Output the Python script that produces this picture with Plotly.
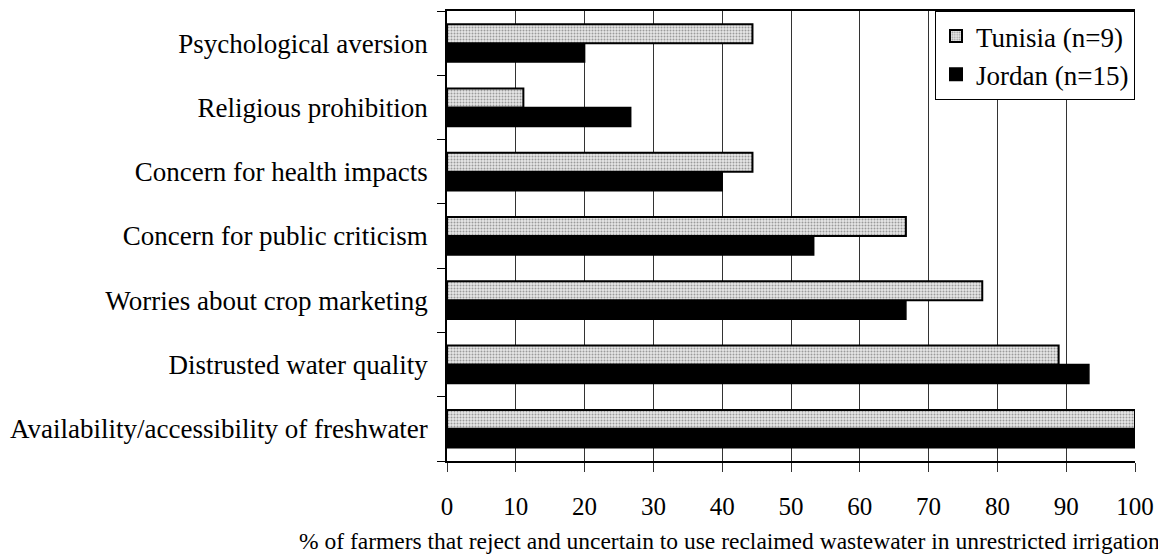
import plotly.graph_objects as go

categories = [
    "Availability/accessibility of freshwater",
    "Distrusted water quality",
    "Worries about crop marketing",
    "Concern for public criticism",
    "Concern for health impacts",
    "Religious prohibition",
    "Psychological aversion",
]
tunisia = [100.0, 88.9, 77.8, 66.7, 44.4, 11.1, 44.4]
jordan = [100.0, 93.3, 66.7, 53.3, 40.0, 26.7, 20.0]
x_ticks = [0, 10, 20, 30, 40, 50, 60, 70, 80, 90, 100]

FONT = "Liberation Serif, Times New Roman, serif"

fig = go.Figure()
fig.add_trace(go.Bar(
    y=categories, x=jordan, orientation="h", name="Jordan (n=15)",
    marker=dict(color="black", line=dict(color="black", width=1.5)),
    legendrank=2,
))
fig.add_trace(go.Bar(
    y=categories, x=tunisia, orientation="h", name="Tunisia (n=9)",
    marker=dict(color="#e4e4e4", line=dict(color="black", width=2),
                pattern=dict(shape=".", bgcolor="#e8e8e8", fgcolor="#9a9a9a",
                             size=3, solidity=0.35, fillmode="replace")),
    legendrank=1,
))

# page body has an 8px default margin; compensate so the plot lands where the reference has it
fig.update_layout(
    width=1158, height=550,
    margin=dict(l=439, r=31, t=3, b=97, autoexpand=False),
    paper_bgcolor="white", plot_bgcolor="white",
    barmode="group", bargap=0.41, bargroupgap=0,
    font=dict(family=FONT, size=25, color="black"),
    showlegend=True,
    legend=dict(
        x=1, y=1, xanchor="right", yanchor="top",
        bgcolor="white", bordercolor="black", borderwidth=1,
        font=dict(family=FONT, size=27, color="black"),
        itemsizing="constant", tracegroupgap=0,
    ),
    xaxis=dict(
        range=[0, 100], tickvals=x_ticks, ticktext=[str(v) for v in x_ticks],
        showgrid=True, gridcolor="#333333", gridwidth=1,
        showline=True, linecolor="black", linewidth=1.5, mirror=True,
        ticks="outside", ticklen=9, tickcolor="#333333", tickwidth=1,
        zeroline=False, ticklabelstandoff=13, automargin=False,
        tickfont=dict(family=FONT, size=25),
    ),
    yaxis=dict(
        type="category", categoryorder="array", categoryarray=categories,
        showline=True, linecolor="black", linewidth=1.5,
        ticks="outside", ticklen=8, tickcolor="black", tickwidth=1,
        tickson="boundaries", showgrid=False, automargin=False,
        ticklabelstandoff=12,
        tickfont=dict(family=FONT, size=27),
    ),
    annotations=[dict(
        text="% of farmers that reject and uncertain to use reclaimed wastewater in unrestricted irrigation",
        xref="paper", yref="paper", x=0.41, y=-0.178,
        xanchor="center", yanchor="middle", showarrow=False,
        font=dict(family=FONT, size=23.5, color="black"),
    )],
)

fig.write_html("out.html")
